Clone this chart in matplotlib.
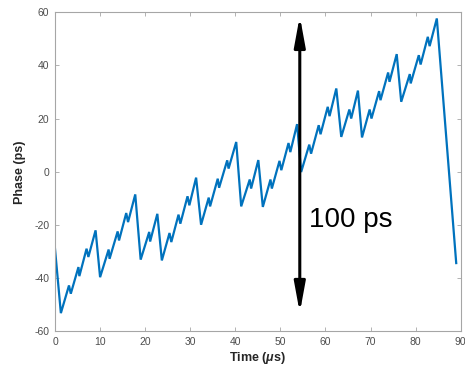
import matplotlib
matplotlib.use("Agg")
import matplotlib.pyplot as plt

plt.rcParams['font.family'] = ['Liberation Sans', 'DejaVu Sans']
plt.rcParams['mathtext.fontset'] = 'custom'
plt.rcParams['mathtext.it'] = 'Liberation Sans:italic:bold'
plt.rcParams['mathtext.rm'] = 'Liberation Sans:bold'
plt.rcParams['axes.unicode_minus'] = False

time_us = [0, 1.3, 3.1, 3.5, 5.2, 5.4, 7.0, 7.4, 9.0, 10.0, 11.9, 12.1, 13.9, 14.2,
           15.8, 16.2, 17.8, 19.0, 20.9, 21.1, 22.7, 23.7, 25.4, 25.8, 27.4, 27.8,
           29.4, 29.8, 31.3, 32.4, 34.1, 34.4, 36.1, 36.4, 38.2, 38.5, 40.2, 41.3,
           43.2, 43.5, 45.1, 46.1, 47.8, 48.1, 49.8, 50.2, 51.8, 52.2, 53.7, 54.6,
           56.4, 56.8, 58.5, 58.9, 60.5, 60.9, 62.4, 63.5, 65.3, 65.7, 67.2, 68.1,
           69.8, 70.2, 71.9, 72.2, 73.9, 74.2, 75.8, 76.8, 78.7, 78.9, 80.7, 81.1,
           82.7, 83.1, 84.7, 89.0]
phase_ps = [-29, -53.1, -42.7, -45.8, -35.8, -39.2, -28.9, -32, -22, -39.6, -29.2, -32.7,
            -22.4, -25.8, -15.5, -18.9, -8.5, -33.0, -22.6, -26.2, -15.8, -33.3, -23.0,
            -26.4, -16.1, -19.5, -9.2, -12.6, -2.2, -19.9, -9.7, -13.0, -2.6, -6.0, 4.3,
            1.2, 11.2, -13.0, -2.9, -6.3, 4.4, -13.2, -2.9, -6.3, 4.1, 0.6, 10.8, 7.4,
            17.9, -0.1, 10.2, 6.8, 17.5, 14.1, 24.4, 20.9, 31.3, 13.1, 23.4, 20.0, 30.5,
            12.9, 23.4, 20.0, 30.3, 26.9, 37.3, 33.8, 44.2, 26.3, 36.7, 33.2, 43.8, 40.3,
            50.7, 47.2, 57.6, -34.3]

xticks = [0, 10, 20, 30, 40, 50, 60, 70, 80, 90]
yticks = [-60, -40, -20, 0, 20, 40, 60]
arrow_x = 54.3
arrow_top = 58.5
arrow_bottom = -53
arrow_label = "100 ps"

fig = plt.figure(figsize=(4.65, 3.68), dpi=100)
ax = fig.add_axes([0.1183, 0.0992, 0.8725, 0.868])
ax.plot(time_us, phase_ps, color='#0072BD', lw=1.6, solid_joinstyle='miter')

ax.set_xlim(0, 90)
ax.set_ylim(-60, 60)
ax.set_xticks(xticks)
ax.set_yticks(yticks)
gray = '#a6a6a6'
for s in ax.spines.values():
    s.set_color(gray)
    s.set_linewidth(0.8)
ax.tick_params(direction='in', top=True, right=True, length=3, width=0.6,
               color=gray, labelcolor='#4d4d4d', labelsize=7.5, pad=4)
ax.set_xlabel(r'Time ($\mu$s)', fontsize=9, fontweight='bold', color='#262626', labelpad=2)
ax.set_ylabel('Phase (ps)', fontsize=9, fontweight='bold', color='#262626', labelpad=6)

ax.annotate('', xy=(arrow_x, arrow_top), xytext=(arrow_x, arrow_bottom),
            arrowprops=dict(arrowstyle='<|-|>,head_length=18,head_width=3.3',
                            mutation_scale=1, color='black', lw=2.2,
                            shrinkA=0, shrinkB=0))
ax.text(56.4, -18.3, arrow_label, fontsize=20, va='center', ha='left', color='black')

fig.savefig('out.png', dpi=100)
